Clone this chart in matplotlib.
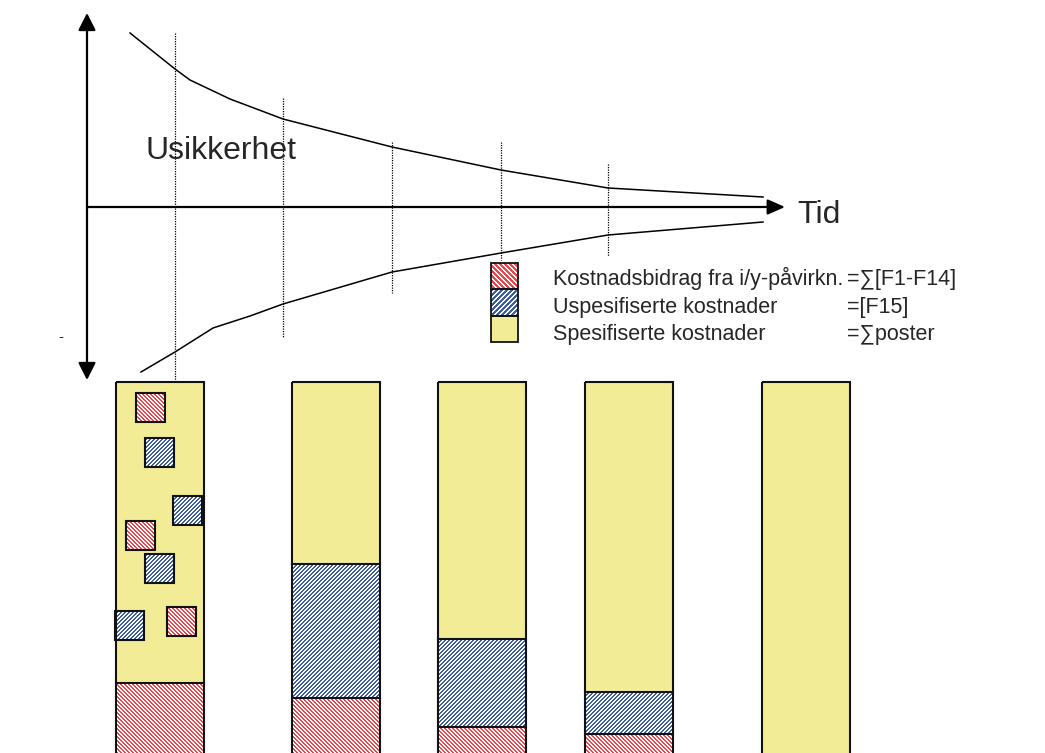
import matplotlib
matplotlib.use("Agg")
import matplotlib.pyplot as plt
import numpy as np
from matplotlib.patches import Rectangle
from matplotlib.colors import to_rgb

plt.rcParams['font.family'] = ['Liberation Sans', 'DejaVu Sans']

# picture is laid out in pixel units, y counted from the top
W, H = 1045, 753

# uncertainty funnel
upper_x = [130, 175, 190, 230, 283, 392, 501, 608, 763]
upper_y = [33, 69, 80, 99, 119, 147, 170, 188, 197]
lower_x = [141, 175, 213, 250, 283, 392, 501, 608, 763]
lower_y = [372, 352, 328, 316, 304, 272, 253, 235, 222]

# dotted milestone lines
dot_x = [175, 283, 392, 501, 608]
dot_top = [33, 98, 142, 142, 164]
dot_bottom = [380, 337, 293, 260, 256]

# stacked cost bars (heights measured up from the picture's lower edge)
bar_x = [160, 336, 482, 629, 806]
red_h = [70, 55, 26, 19, 0]
blue_h = [0, 134, 88, 42, 0]
bar_top = 382

# scattered contributions in the first bar
sq_x = [136, 145, 173, 126, 145, 115, 167]
sq_y = [393, 438, 496, 521, 554, 611, 607]
sq_kind = ['red', 'blue', 'blue', 'red', 'blue', 'blue', 'red']

legend_labels = ['Kostnadsbidrag fra i/y-påvirkn.', 'Uspesifiserte kostnader', 'Spesifiserte kostnader']
legend_formulas = ['=\u2211[F1-F14]', '=[F15]', '=\u2211poster']

YELLOW = '#F2EC96'
RED = '#E8474E'
BLUE = '#3D5FA0'
EDGE = '#111111'
TEXT = '#262626'

fig = plt.figure(figsize=(W / 100, H / 100), dpi=100)
ax = fig.add_axes([0, 0, 1, 1])
ax.axis('off')

# crisp pixel stripes, like the old bitmap hatch fills
yy, xx = np.mgrid[0:H + 20, 0:W]


def stripe_image(color, down, period):
    mask = (((xx - yy) if down else (xx + yy)) % period) < period / 2
    img = np.ones(mask.shape + (3,))
    img[mask] = to_rgb(color)
    return img


textures = {
    ('red', 4): stripe_image(RED, True, 4), ('blue', 4): stripe_image(BLUE, False, 4),
    ('red', 5): stripe_image(RED, True, 5), ('blue', 5): stripe_image(BLUE, False, 5),
}


def striped_box(x0, y0, w, h, kind, period=4):
    if kind == 'yellow':
        ax.add_patch(Rectangle((x0, y0), w, h, facecolor=YELLOW, lw=0, zorder=2))
        return
    tex = textures[(kind, period)]
    x0, y0, w, h = int(x0), int(y0), int(w), int(h)
    sub = tex[y0:y0 + h, x0:x0 + w]
    ax.imshow(sub, extent=(x0, x0 + w, y0 + h, y0), interpolation='nearest', zorder=2)


# axes with arrows
ax.annotate('', xy=(87, 13), xytext=(87, 380),
            arrowprops=dict(arrowstyle='<|-|>,head_length=0.75,head_width=0.38', color='black',
                            lw=1.6, mutation_scale=14, shrinkA=0, shrinkB=0))
ax.annotate('', xy=(785, 207), xytext=(87, 207),
            arrowprops=dict(arrowstyle='-|>,head_length=0.75,head_width=0.33', color='black',
                            lw=1.6, mutation_scale=14, shrinkA=0, shrinkB=0))

ax.plot(upper_x, upper_y, color='black', lw=1.1)
ax.plot(lower_x, lower_y, color='black', lw=1.1)
ax.vlines(dot_x, dot_top, dot_bottom, colors='black', linestyles=(0, (1, 1)), lw=0.9)

ax.text(145, 159, 'Usikkerhet', fontsize=23, color=TEXT, va='baseline')
ax.text(797, 223, 'Tid', fontsize=23, color=TEXT, va='baseline')
ax.text(58, 341, '-', fontsize=11, color=TEXT, va='baseline')

# bars, running a little past the lower edge of the picture
base = H + 10
red_top = [H - r for r in red_h]
blue_top = [rt - b for rt, b in zip(red_top, blue_h)]
bw = 88

ax.bar(bar_x, [bt - bar_top for bt in blue_top], bottom=bar_top, width=bw, color=YELLOW, lw=0)
for x, r, b, bt, rt in zip(bar_x, red_h, blue_h, blue_top, red_top):
    if b > 0:
        striped_box(x - bw / 2, bt, bw, b, 'blue')
    striped_box(x - bw / 2, rt, bw, base - rt, 'red' if r > 0 else 'yellow')
ax.bar(bar_x, base - bar_top, bottom=bar_top, width=bw, fill=False, ec=EDGE, lw=1.5, zorder=3)
for x, r, b, bt, rt in zip(bar_x, red_h, blue_h, blue_top, red_top):
    if b > 0:
        ax.plot([x - bw / 2, x + bw / 2], [bt, bt], color=EDGE, lw=1.5, zorder=3)
    if r > 0:
        ax.plot([x - bw / 2, x + bw / 2], [rt, rt], color=EDGE, lw=1.5, zorder=3)

sq = 29
for x, y, k in zip(sq_x, sq_y, sq_kind):
    striped_box(x, y, sq, sq, k)
    ax.add_patch(Rectangle((x, y), sq, sq, fill=False, ec=EDGE, lw=1.5, zorder=3))

# legend
box_y = [263, 289, 316]
box_h = [26, 27, 26]
for y, hgt, k in zip(box_y, box_h, ['red', 'blue', 'yellow']):
    striped_box(491, y, 27, hgt, k, period=5)
    ax.add_patch(Rectangle((491, y), 27, hgt, fill=False, ec=EDGE, lw=1.3, zorder=3))

for i, (lab, frm) in enumerate(zip(legend_labels, legend_formulas)):
    yb = 285 + 27.5 * i
    ax.text(553, yb, lab, fontsize=15.5, color=TEXT, va='baseline')
    ax.text(847, yb, frm, fontsize=15.5, color=TEXT, va='baseline')

ax.set_aspect('auto')
ax.set_xlim(0, W)
ax.set_ylim(H, 0)
fig.savefig('out.png', dpi=100)
